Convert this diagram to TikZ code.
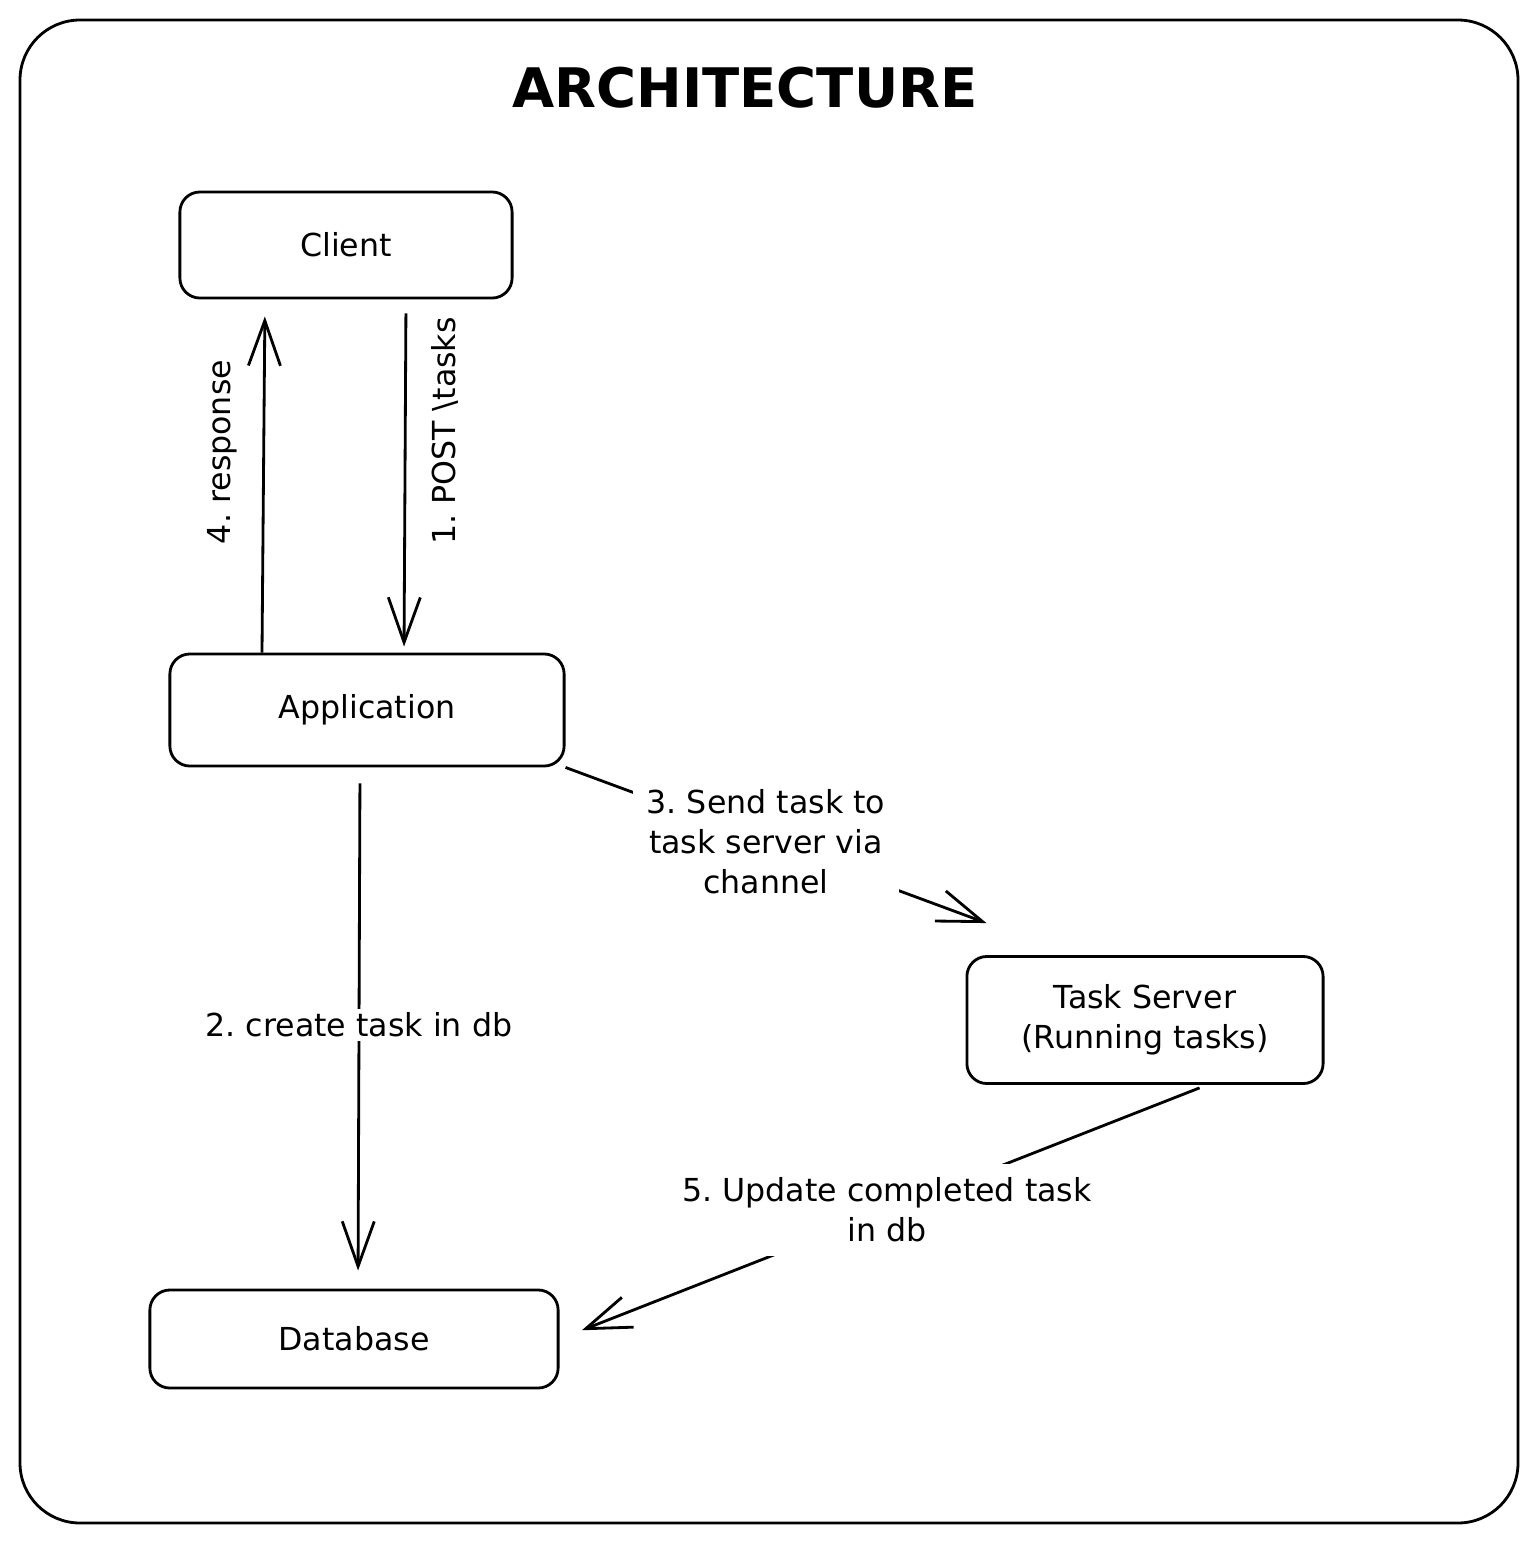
\documentclass[tikz,border=0pt]{standalone}
\usepackage{fontspec}
\setmainfont{DejaVu Sans}
\usepackage{tikz}
\usetikzlibrary{calc,arrows.meta}
\frenchspacing

\begin{document}
\begin{tikzpicture}[x=0.01cm,y=-0.01cm,line width=0.8pt]
            \tikzstyle{every node}=[font=\fontsize{9pt}{11.4pt}\selectfont,align=center]
            \tikzstyle{box}=[draw,rounded corners=0.2cm,inner sep=0pt]
            \tikzstyle{lbl}=[fill=white,inner sep=1pt]
            \tikzstyle{arr}=[-{Straight Barb[length=4.5mm,width=3.2mm]}]
            \useasboundingbox (0,0) rectangle (1538,1542);
            \draw[rounded corners=0.6cm] (20,20) rectangle (1518,1523);
            \node[font=\fontsize{15.5pt}{18pt}\selectfont\bfseries] (title) at (745,88) {ARCHITECTURE};
            % boxes
            \node[box,minimum width=3.32cm,minimum height=1.06cm] (client) at (346,245) {Client};
            \node[box,minimum width=3.94cm,minimum height=1.12cm] (app) at (367,710) {Application};
            \node[box,minimum width=4.08cm,minimum height=0.98cm] (db) at (354,1339) {Database};
            \node[box,minimum width=3.56cm,minimum height=1.27cm] (ts) at (1145,1020) {Task Server\\(Running tasks)};
            % arrows
            \draw[arr,shorten >=0.17cm] (app.north -| 262,0) -- (client.south -| 265,0);
            \draw[arr,shorten <=0.14cm,shorten >=0.06cm] (client.south -| 406,0) -- (app.north -| 404,0);
            \draw[arr,shorten <=0.16cm,shorten >=0.18cm] (app.south -| 360,0) -- (db.north -| 358,0);
            \draw[arr] (app.south east) -- ($(ts.north west)+(21,-32)$);
            \draw[arr,shorten <=0.08cm,shorten >=0.24cm] (ts.south -| 1207,0) -- (db.east);
            % labels
            \node[rotate=90] (l4) at (222,452) {4. response};
            \node[rotate=90] (l1) at (445,431) {1. POST \textbackslash tasks};
            \node[lbl] (l2) at (359,1025) {2. create task in db};
            \node[lbl,inner sep=4pt] (l3) at (766,842) {3. Send task to\\task server via\\channel};
            \node[lbl,inner sep=4pt] (l5) at (887,1210) {5. Update completed task\\in db};
\end{tikzpicture}
\end{document}
